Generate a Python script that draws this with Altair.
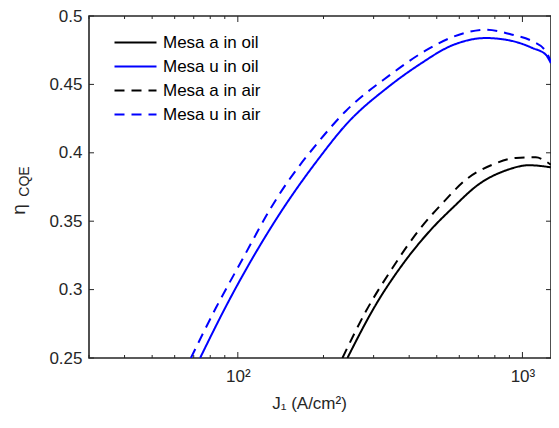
import altair as alt
import pandas as pd

W, H = 462, 342
FONT = "Liberation Sans"

series = ["Mesa a in oil", "Mesa u in oil", "Mesa a in air", "Mesa u in air"]
colors = ["#000000", "#0000ff", "#000000", "#0000ff"]
dashes = [[1, 0], [1, 0], [10, 7], [10, 7]]

# Mesa a in oil (black solid)
a_oil_J = [242.7, 305.5, 378.6, 482.8, 567.5, 704.7, 874, 1055, 1258]
a_oil_eta = [0.25, 0.289, 0.3182, 0.345, 0.3596, 0.3772, 0.3871, 0.3909, 0.3894]

# Mesa u in oil (blue solid)
u_oil_J = [73.7, 91.5, 139.7, 193.1, 239.7, 340, 433.5, 567.5, 743.6, 922, 1084, 1208, 1258]
u_oil_eta = [0.25, 0.289, 0.3548, 0.3962, 0.4205, 0.4486, 0.4644, 0.4786, 0.4839, 0.4817, 0.4766, 0.4717, 0.4656]

# Mesa a in air (black dashed)
a_air_J = [233.1, 281.8, 349.4, 433.5, 530.9, 632.5, 784.6, 948, 1114, 1208, 1258]
a_air_eta = [0.25, 0.2841, 0.3158, 0.3436, 0.3645, 0.3803, 0.3913, 0.3962, 0.3967, 0.3938, 0.3913]

# Mesa u in air (blue dashed)
u_air_J = [68.4, 83.7, 104.4, 130.6, 139.7, 193.1, 239.7, 340, 457.7, 567.5, 632.5, 743.6, 922, 1084, 1208, 1258]
u_air_eta = [0.25, 0.2865, 0.3231, 0.3596, 0.3694, 0.4086, 0.4306, 0.4564, 0.4748, 0.4846, 0.4878, 0.490, 0.4863, 0.4815, 0.4742, 0.4669]

x_major = [100, 1000]
x_minor = [30, 40, 50, 60, 70, 80, 90, 200, 300, 400, 500, 600, 700, 800, 900]
y_ticks = [0.25, 0.3, 0.35, 0.4, 0.45, 0.5]

rows = []
for name, js, es in [
    (series[0], a_oil_J, a_oil_eta),
    (series[1], u_oil_J, u_oil_eta),
    (series[2], a_air_J, a_air_eta),
    (series[3], u_air_J, u_air_eta),
]:
    for j, e in zip(js, es):
        rows.append({"J": j, "eta": e, "series": name})
df = pd.DataFrame(rows)

x_scale = alt.Scale(type="log", domain=[30, 1260], nice=False)
y_scale = alt.Scale(domain=[0.25, 0.5], nice=False, zero=False)

x_axis = alt.Axis(
    values=x_major,
    labelExpr="datum.value == 100 ? '10²' : '10³'",
    ticks=False, domain=False, grid=False,
    labelFontSize=17, labelPadding=10, labelColor="#262626", labelFont=FONT,
    title="J₁ (A/cm²)", titleFontSize=17, titleFontWeight="normal",
    titleColor="#262626", titleFont=FONT,
    titleX=220, titleY=50, titleAlign="center", titleBaseline="alphabetic",
)
y_axis = alt.Axis(
    values=y_ticks, format="~g",
    ticks=False, domain=False, grid=False,
    labelFontSize=17, labelPadding=7, labelColor="#262626", labelFont=FONT,
    title="η", titleFontSize=19, titleFontWeight="normal", titleColor="#262626",
    titleFont=FONT, titleAngle=270, titleX=-65, titleY=193,
    titleAlign="center", titleBaseline="alphabetic",
)

X = alt.X("J:Q", scale=x_scale, axis=x_axis)
Y = alt.Y("eta:Q", scale=y_scale, axis=y_axis)

legend = alt.Legend(
    title=None, orient="none", legendX=38, legendY=18,
    symbolType="M-3,0H3", symbolSize=196, symbolStrokeWidth=2,
    labelFontSize=17, labelFont=FONT, labelColor="#000000",
    labelOffset=19, rowPadding=6, padding=0,
)

lines = alt.Chart(df).mark_line(strokeWidth=2, clip=True, interpolate="monotone").encode(
    x=X, y=Y,
    color=alt.Color("series:N", scale=alt.Scale(domain=series, range=colors), sort=series, legend=legend),
    strokeDash=alt.StrokeDash("series:N", scale=alt.Scale(domain=series, range=dashes), sort=series, legend=legend),
    detail="series:N",
)

tick_style = dict(color="#262626", strokeWidth=1)
xmin_df = pd.DataFrame({"J": x_minor})
xmaj_df = pd.DataFrame({"J": x_major})
y_df = pd.DataFrame({"eta": y_ticks})

ticks = [
    alt.Chart(xmin_df).mark_rule(**tick_style).encode(x=X, y=alt.value(H), y2=alt.value(H - 3)),
    alt.Chart(xmin_df).mark_rule(**tick_style).encode(x=X, y=alt.value(0), y2=alt.value(3)),
    alt.Chart(xmaj_df).mark_rule(**tick_style).encode(x=X, y=alt.value(H), y2=alt.value(H - 6)),
    alt.Chart(xmaj_df).mark_rule(**tick_style).encode(x=X, y=alt.value(0), y2=alt.value(6)),
    alt.Chart(y_df).mark_rule(**tick_style).encode(y=Y, x=alt.value(0), x2=alt.value(5)),
    alt.Chart(y_df).mark_rule(**tick_style).encode(y=Y, x=alt.value(W), x2=alt.value(W - 5)),
]

main = alt.layer(lines, *ticks)

# subscript "CQE" of the y title, drawn as the title of a second (label-less) left axis
cqe = alt.Chart(pd.DataFrame({"d": [0.25, 0.5]})).mark_point(opacity=0).encode(
    y=alt.Y("d:Q", scale=alt.Scale(domain=[0.25, 0.5], nice=False, zero=False),
            axis=alt.Axis(orient="left", labels=False, ticks=False, domain=False, grid=False,
                          title="CQE", titleFontSize=14, titleFontWeight="normal",
                          titleColor="#262626", titleFont=FONT, titleAngle=270,
                          titleX=-61, titleY=165, titleAlign="center",
                          titleBaseline="alphabetic")),
)

chart = alt.layer(main, cqe).resolve_scale(y="independent").resolve_axis(y="independent").properties(
    width=W, height=H,
    autosize=alt.AutoSizeParams(type="none"),
    padding={"left": 81, "top": 8, "right": 0, "bottom": 55},
).configure(font=FONT).configure_view(stroke="#262626", strokeWidth=1.6)

chart.save("out.html", embed_options={"renderer": "svg", "actions": False})
